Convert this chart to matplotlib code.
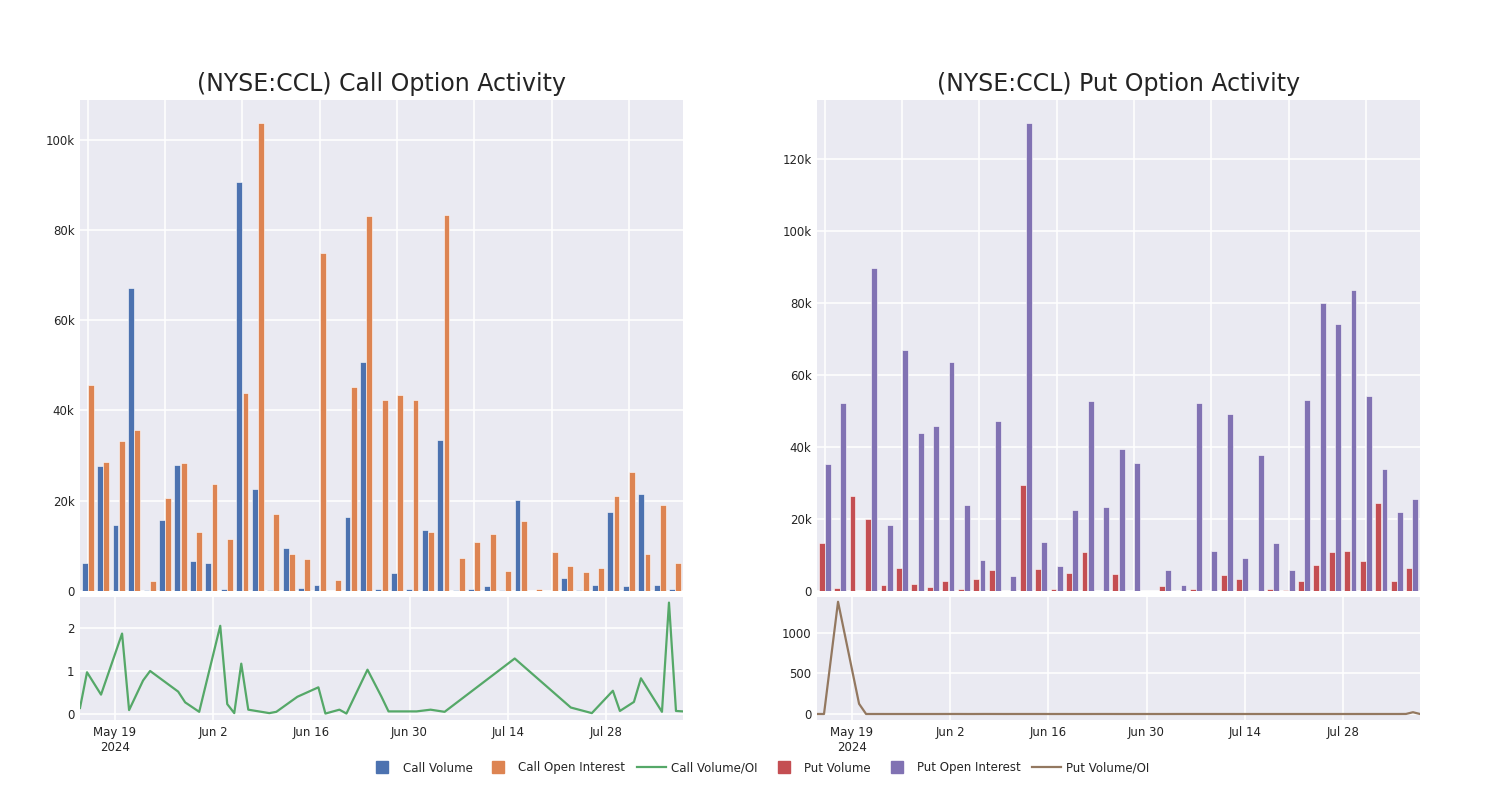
import matplotlib
matplotlib.use('Agg')
import matplotlib.pyplot as plt
import numpy as np
import pandas as pd
from matplotlib.lines import Line2D
from matplotlib.ticker import FuncFormatter

# trading days that have option data
dates = pd.to_datetime([
    '2024-05-14', '2024-05-15', '2024-05-17', '2024-05-20', '2024-05-21',
    '2024-05-23', '2024-05-24', '2024-05-28', '2024-05-29', '2024-05-31',
    '2024-06-03', '2024-06-04', '2024-06-05', '2024-06-06', '2024-06-07',
    '2024-06-10', '2024-06-11', '2024-06-14', '2024-06-17', '2024-06-18',
    '2024-06-20', '2024-06-21', '2024-06-24', '2024-06-26', '2024-06-27',
    '2024-07-01', '2024-07-03', '2024-07-05', '2024-07-15', '2024-07-23',
    '2024-07-26', '2024-07-29', '2024-07-30', '2024-08-01', '2024-08-02',
    '2024-08-05', '2024-08-06', '2024-08-07', '2024-08-08'])

call_volume = [6100, 27700, 14700, 67100, 150, 15700, 28000, 6700, 6300, 500,
               90700, 22700, 200, 9600, 700, 1400, 100, 16400, 50700, 500,
               4000, 400, 13600, 33400, 300, 400, 1100, 150, 20200, 60,
               100, 2800, 300, 1400, 17500, 1000, 21600, 1260, 370]
call_oi = [45600, 28500, 33300, 35700, 2150, 20600, 28400, 13000, 23700, 11600,
           43900, 103600, 17100, 8100, 7200, 74900, 2400, 45300, 83000, 42400,
           43400, 42400, 13100, 83300, 7400, 10800, 12600, 4400, 15600, 400,
           8700, 5600, 4100, 5000, 21100, 26300, 8200, 19000, 6300]
call_ratio = [0.14, 0.97, 0.45, 1.87, 0.09, 0.78, 1.0, 0.52, 0.27, 0.05,
              2.05, 0.23, 0.02, 1.17, 0.1, 0.02, 0.05, 0.4, 0.62, 0.01,
              0.1, 0.01, 1.03, 0.4, 0.06, 0.06, 0.1, 0.05, 1.29, 0.15,
              0.02, 0.54, 0.07, 0.28, 0.83, 0.05, 2.59, 0.07, 0.06]

put_volume = [13200, 740, 26500, 20000, 1600, 6400, 1900, 1100, 2900, 460,
              3300, 5750, 0, 29400, 6200, 460, 5000, 10700, 100, 4800,
              100, 0, 1400, 100, 650, 0, 4400, 3400, 0, 460,
              200, 2900, 7100, 10700, 11000, 8400, 24300, 2800, 6500]
put_oi = [35200, 52300, 20, 89600, 18200, 66800, 43900, 45700, 63500, 23900,
          8600, 47200, 4200, 129800, 13700, 6900, 22500, 52700, 23400, 39300,
          35600, 0, 5700, 1700, 52300, 11000, 49100, 9200, 37800, 13200,
          5900, 53000, 79900, 74100, 83500, 54000, 33900, 21800, 25400]
put_ratio = [0.38, 0.01, 1385, 126, 0.09, 0.1, 0.04, 0.02, 0.05, 0.02,
             0.38, 0.12, 0, 0.23, 0.45, 0.07, 0.22, 0.2, 0, 0.12,
             0, 0, 0.25, 0.06, 0.01, 0, 0.09, 0.37, 0, 0.03,
             0.03, 0.05, 0.09, 0.14, 0.13, 0.16, 0.72, 22, 0.26]

date_ticks = pd.to_datetime(['2024-05-19', '2024-06-02', '2024-06-16',
                             '2024-06-30', '2024-07-14', '2024-07-28'])
date_labels = ['May 19\n2024', 'Jun 2', 'Jun 16', 'Jun 30', 'Jul 14', 'Jul 28']

BG = '#EAEAF2'
TXT = '#242424'
plt.rcParams['font.family'] = ['DejaVu Sans']

fig = plt.figure(figsize=(15, 8), dpi=100)


def kfmt(v, pos):
    if v == 0:
        return '0'
    return f'{int(round(v / 1000))}k'


def style(ax):
    ax.set_facecolor(BG)
    for s in ax.spines.values():
        s.set_visible(False)
    ax.grid(True, color='white', linewidth=1.1)
    ax.set_axisbelow(True)
    ax.tick_params(length=0, labelsize=8.5, labelcolor=TXT, pad=4)


def panel(left, title, vol, oi, ratio, cols, bar_top, bar_ticks,
          ratio_lim, ratio_ticks):
    w = 603 / 1500
    ax = fig.add_axes([left, 1 - 591 / 800, w, 491 / 800])
    ax2 = fig.add_axes([left, 1 - 720 / 800, w, 123 / 800])
    style(ax)
    style(ax2)

    # grouped bars on a category axis
    x = np.arange(len(dates))
    ax.bar(x - 0.2, vol, width=0.38, color=cols[0], edgecolor='white', linewidth=0.4)
    ax.bar(x + 0.2, oi, width=0.38, color=cols[1], edgecolor='white', linewidth=0.4)
    ax.set_xlim(-0.5, len(dates) - 0.5)
    ax.set_xticks(range(0, len(dates), 5))
    ax.set_xticklabels([])
    ax.set_ylim(0, bar_top)
    ax.set_yticks(bar_ticks)
    ax.yaxis.set_major_formatter(FuncFormatter(kfmt))

    # volume / open interest on a date axis
    ax2.plot(dates, ratio, color=cols[2], linewidth=1.6)
    ax2.set_xlim(dates[0], dates[-1])
    ax2.set_xticks(date_ticks)
    ax2.set_xticklabels(date_labels)
    ax2.set_ylim(*ratio_lim)
    ax2.set_yticks(ratio_ticks)

    fig.text(left + w / 2, 1 - 84 / 800, title, ha='center', va='center',
             fontsize=17, color=TXT)


panel(80 / 1500, '(NYSE:CCL) Call Option Activity', call_volume, call_oi, call_ratio,
      ['#4C72B0', '#DD8452', '#55A868'], max(call_oi) * 1.05,
      [0, 20000, 40000, 60000, 80000, 100000], (-0.14, 2.72), [0, 1, 2])
panel(817 / 1500, '(NYSE:CCL) Put Option Activity', put_volume, put_oi, put_ratio,
      ['#C44E52', '#8172B3', '#937860'], max(put_oi) * 1.05,
      [0, 20000, 40000, 60000, 80000, 100000, 120000], (-74, 1444), [0, 500, 1000])

handles = [
    Line2D([], [], marker='s', ls='none', color='#4C72B0', markersize=9),
    Line2D([], [], marker='s', ls='none', color='#DD8452', markersize=9),
    Line2D([], [], color='#55A868', linewidth=1.6),
    Line2D([], [], marker='s', ls='none', color='#C44E52', markersize=9),
    Line2D([], [], marker='s', ls='none', color='#8172B3', markersize=9),
    Line2D([], [], color='#937860', linewidth=1.6),
]
labels = ['Call Volume', 'Call Open Interest', 'Call Volume/OI',
          'Put Volume', 'Put Open Interest', 'Put Volume/OI']
fig.legend(handles, labels, loc='center', bbox_to_anchor=(0.506, 1 - 768 / 800),
           ncol=6, frameon=False, fontsize=8.5, handlelength=2.4,
           columnspacing=1.0, handletextpad=0.5, labelcolor=TXT)

fig.savefig('out.png', dpi=100, facecolor='white')
